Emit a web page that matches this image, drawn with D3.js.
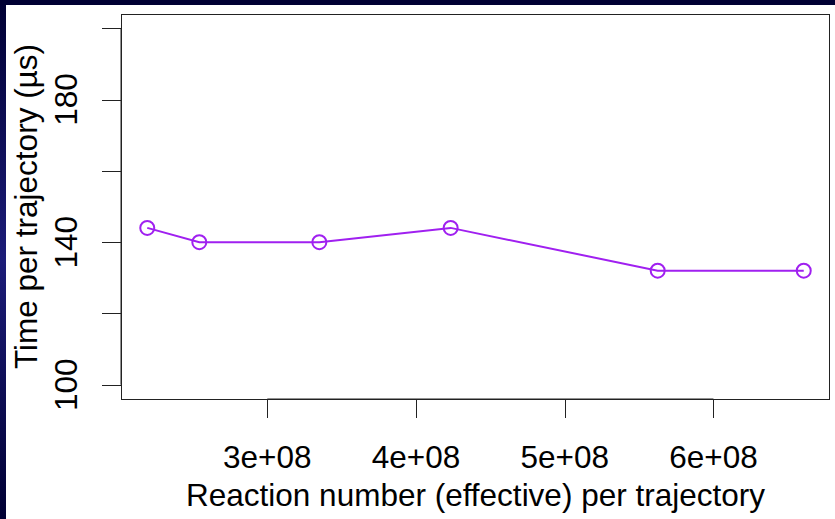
<!DOCTYPE html>
<html>
<head>
<meta charset="utf-8">
<script src="https://cdn.jsdelivr.net/npm/d3@7"></script>
<style>
  html, body { margin: 0; padding: 0; background: #fff; }
  svg { display: block; }
  text { font-family: "Liberation Sans", Arial, sans-serif; fill: #000; }
</style>
</head>
<body>
<svg id="chart"></svg>
<script>
// reaction number (effective) per trajectory vs. time per trajectory (µs)
const reactions = [2.193e8, 2.543e8, 3.35e8, 4.233e8, 5.625e8, 6.607e8];
const times = [144, 140, 140, 144, 132, 132];
const xTicks = [3e8, 4e8, 5e8, 6e8];
const yTicks = [100, 120, 140, 160, 180, 200];
const yLabelled = [100, 140, 180];
const yLimits = [100, 200];

const W = 835, H = 519;
const box = { left: 121, right: 830, top: 14, bottom: 399 };
const purple = '#a020f0';
const fontSize = 31.5;

const svg = d3.select('#chart').attr('width', W).attr('height', H);

// slide-style border strips
const defs = svg.append('defs');
const grad = defs.append('linearGradient').attr('id', 'side')
	.attr('x1', 0).attr('y1', 0).attr('x2', 0).attr('y2', 1);
grad.append('stop').attr('offset', '0%').attr('stop-color', '#000033');
grad.append('stop').attr('offset', '50%').attr('stop-color', '#1c1c78');
grad.append('stop').attr('offset', '100%').attr('stop-color', '#000033');
svg.append('rect').attr('x', 0).attr('y', 0).attr('width', 6).attr('height', H).attr('fill', 'url(#side)');
svg.append('rect').attr('x', 0).attr('y', 0).attr('width', W).attr('height', 5).attr('fill', '#000033');

// R-style 4% axis extension
const extend = ([a, b]) => { const d = (b - a) * 0.04; return [a - d, b + d]; };

const x = d3.scaleLinear()
	.domain(extend(d3.extent(reactions))).range([box.left, box.right]);
const y = d3.scaleLinear()
	.domain(extend(yLimits)).range([box.bottom, box.top]);

const tickLen = 19;
const axisColor = '#222';

// x axis
const gx = svg.append('g');
gx.append('line')
	.attr('x1', x(xTicks[0])).attr('x2', x(xTicks[xTicks.length - 1]))
	.attr('y1', box.bottom).attr('y2', box.bottom)
	.attr('stroke', axisColor);
gx.selectAll('line.tick').data(xTicks).enter().append('line')
	.attr('class', 'tick')
	.attr('x1', d => Math.round(x(d)) + 0.5).attr('x2', d => Math.round(x(d)) + 0.5)
	.attr('y1', box.bottom).attr('y2', box.bottom + tickLen)
	.attr('stroke', axisColor);
gx.selectAll('text').data(xTicks).enter().append('text')
	.attr('x', d => x(d)).attr('y', 468)
	.attr('text-anchor', 'middle')
	.attr('font-size', fontSize)
	.text(d => (d / 1e8) + 'e+08');

// y axis
const gy = svg.append('g');
gy.append('line')
	.attr('x1', box.left).attr('x2', box.left)
	.attr('y1', y(yTicks[0])).attr('y2', y(yTicks[yTicks.length - 1]))
	.attr('stroke', axisColor);
gy.selectAll('line.tick').data(yTicks).enter().append('line')
	.attr('class', 'tick')
	.attr('x1', box.left - tickLen).attr('x2', box.left)
	.attr('y1', d => Math.round(y(d)) + 0.5).attr('y2', d => Math.round(y(d)) + 0.5)
	.attr('stroke', axisColor);
gy.selectAll('text').data(yLabelled).enter().append('text')
	.attr('transform', d => `translate(77,${y(d)}) rotate(-90)`)
	.attr('text-anchor', 'middle')
	.attr('font-size', fontSize)
	.text(d => d);

// plot box
svg.append('rect')
	.attr('x', box.left + 0.5).attr('y', box.top + 0.5)
	.attr('width', box.right - box.left - 1).attr('height', box.bottom - box.top)
	.attr('fill', 'none').attr('stroke', axisColor);

// axis titles
svg.append('text')
	.attr('x', (box.left + box.right) / 2).attr('y', 506)
	.attr('text-anchor', 'middle').attr('font-size', fontSize)
	.text('Reaction number (effective) per trajectory');
svg.append('text')
	.attr('transform', `translate(37,${(box.top + box.bottom) / 2}) rotate(-90)`)
	.attr('text-anchor', 'middle').attr('font-size', fontSize)
	.text('Time per trajectory (µs)');

// series
const pts = reactions.map((r, i) => [r, times[i]]);
const line = d3.line().x(d => x(d[0])).y(d => y(d[1]));
svg.append('path').datum(pts)
	.attr('d', line)
	.attr('fill', 'none')
	.attr('stroke', purple)
	.attr('stroke-width', 2);
svg.selectAll('circle.pt').data(pts).enter().append('circle')
	.attr('class', 'pt')
	.attr('cx', d => x(d[0])).attr('cy', d => y(d[1]))
	.attr('r', 7)
	.attr('fill', 'none')
	.attr('stroke', purple)
	.attr('stroke-width', 2);
</script>
</body>
</html>
